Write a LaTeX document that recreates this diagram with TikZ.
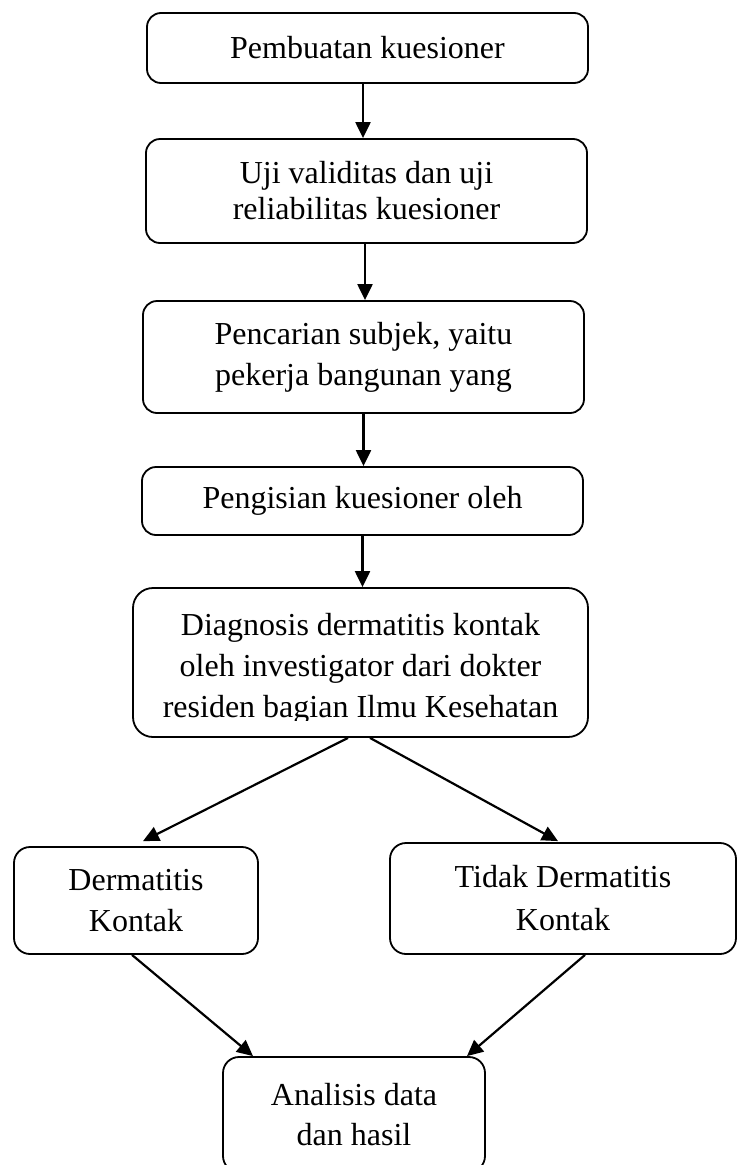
\documentclass[tikz,border=0pt]{standalone}
\usepackage{fontspec}
\setmainfont{Liberation Serif}
\usetikzlibrary{arrows.meta,calc}
\begin{document}
\begin{tikzpicture}[x=1pt,y=-1pt,
  box/.style={draw, line width=1.8pt, rounded corners=14pt, align=center, inner sep=0pt,
              font=\fontsize{32}{41}\selectfont},
  txt/.style={align=center, inner sep=0pt, font=\fontsize{32}{41}\selectfont},
  arr/.style={line width=2.2pt, -{Triangle[width=15pt,length=16pt]}}]
\useasboundingbox (0,0) rectangle (738,1165);
\clip (0,0) rectangle (738,1165);

\node[box, minimum width=441pt, minimum height=70pt] (b1) at (367.5,48) {Pembuatan kuesioner};
\node[box, minimum width=441pt, minimum height=104pt, font=\fontsize{32}{36}\selectfont] (b2) at (366.5,191) {Uji validitas dan uji\\reliabilitas kuesioner};
\node[box, minimum width=441pt, minimum height=112pt] (b3) at (363.5,357) {Pencarian subjek, yaitu\\pekerja bangunan yang};
\node[box, minimum width=441pt, minimum height=68pt] (b4) at (362.5,501) {Pengisian kuesioner oleh};
\node[box, rounded corners=20pt, minimum width=455pt, minimum height=149pt] (b5) at (360.5,662.5) {};
\begin{scope}
  \clip (133,588) rectangle (588,720);
  \node[txt] (b5t) at (360.5,668.5) {Diagnosis dermatitis kontak\\oleh investigator dari dokter\\residen bagian Ilmu Kesehatan};
\end{scope}
\node[box, rounded corners=16pt, minimum width=244pt, minimum height=107pt] (b6) at (136,900.5) {Dermatitis\\Kontak};
\node[box, rounded corners=16pt, minimum width=346pt, minimum height=111pt, font=\fontsize{32}{43}\selectfont] (b7) at (563,898.5) {Tidak Dermatitis\\Kontak};
\node[box, rounded corners=16pt, minimum width=262pt, minimum height=115pt, font=\fontsize{32}{40}\selectfont] (b8) at (354,1114.5) {Analisis data\\dan hasil};

\draw[arr] ([xshift=-4.5pt]b1.south) -- ([xshift=-4.5pt]b1.south |- b2.north);
\draw[arr] ([xshift=-1.5pt]b2.south) -- ([xshift=-1.5pt]b2.south |- b3.north);
\draw[arr] (b3.south) -- (b3.south |- b4.north);
\draw[arr] (b4.south) -- (b4.south |- b5.north);
\draw[arr] ([xshift=-12.5pt]b5.south) -- ([xshift=7pt,yshift=5pt]b6.north);
\draw[arr] ([xshift=9.5pt]b5.south) -- ([xshift=-5pt,yshift=1pt]b7.north);
\draw[arr] ([xshift=-4pt]b6.south) -- ([xshift=-101pt]b8.north);
\draw[arr] ([xshift=22pt]b7.south) -- ([xshift=113pt]b8.north);
\end{tikzpicture}
\end{document}
